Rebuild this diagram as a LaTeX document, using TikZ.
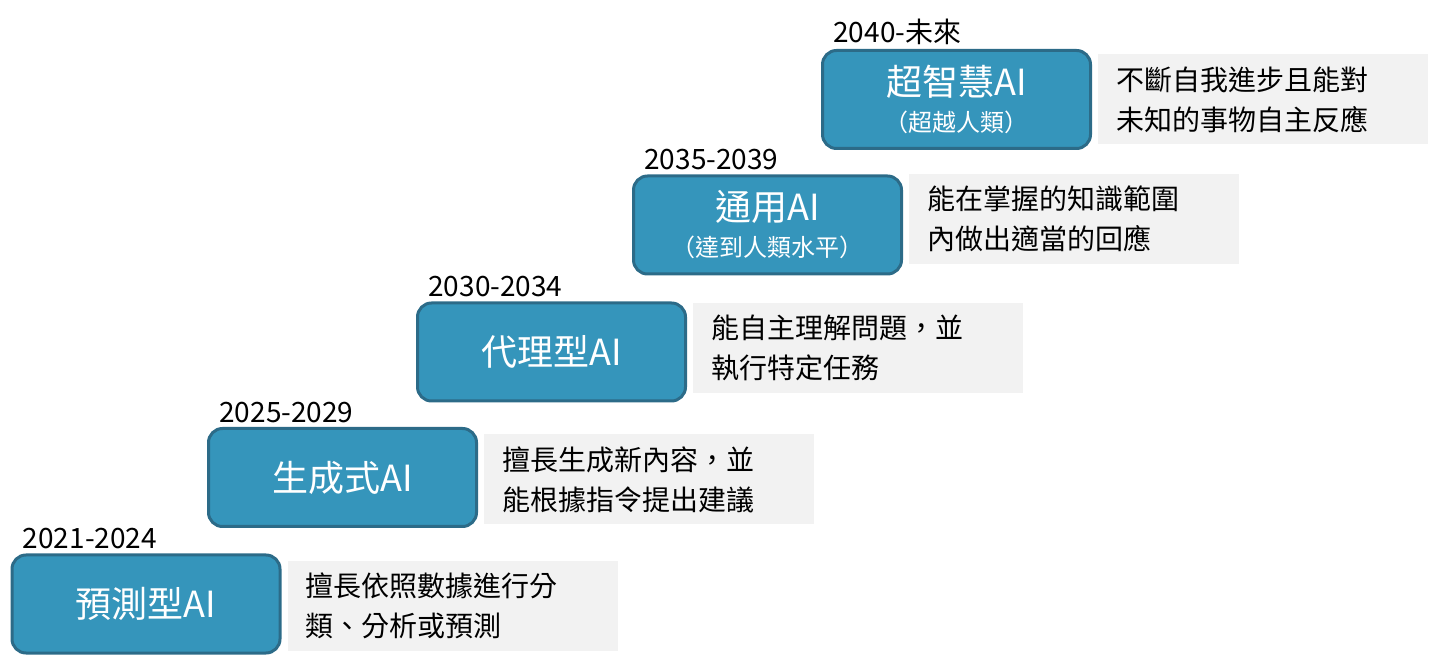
\documentclass[tikz,border=0pt]{standalone}
\usepackage{fontspec}
\setmainfont{Noto Sans CJK TC}
\usetikzlibrary{positioning}
\definecolor{stepblue}{HTML}{3595BB}
\definecolor{stepedge}{HTML}{2C6B88}
\definecolor{notegray}{HTML}{F2F2F2}

\begin{document}
\begin{tikzpicture}[x=0.5pt, y=-0.5pt,
    stage/.style={draw=stepedge, line width=1.5pt, fill=stepblue, rounded corners=7pt,
        minimum width=134pt, minimum height=49pt, text=white, align=center,
        font=\fontsize{18}{21}\selectfont},
    note/.style={fill=notegray, minimum width=165pt, minimum height=45pt, text width=147pt,
        align=left, font=\fontsize{14}{20}\selectfont, right=3pt of #1},
    year/.style={font=\fontsize{14}{16}\selectfont, inner sep=1pt, anchor=south west}]
    \useasboundingbox (0,0) rectangle (1429,667);

    \node[stage] (p) at (146,604) {預測型AI};
    \node[stage] (g) at (342.5,477.5) {生成式AI};
    \node[stage] (a) at (551.5,352) {代理型AI};
    \node[stage] (u) at (767.5,225) {通用AI\\[-3pt]{\fontsize{12}{14}\selectfont （達到人類水平）}};
    \node[stage] (s) at (956.5,99.5) {超智慧AI\\[-3pt]{\fontsize{12}{14}\selectfont （超越人類）}};

    \node[note=p, yshift=-1pt] (pn) {擅長依照數據進行分\\類、分析或預測};
    \node[note=g, yshift=-1pt] (gn) {擅長生成新內容，並\\能根據指令提出建議};
    \node[note=a, yshift=2pt] (an) {能自主理解問題，並\\執行特定任務};
    \node[note=u, yshift=3pt] (un) {能在掌握的知識範圍\\內做出適當的回應};
    \node[note=s] (sn) {不斷自我進步且能對\\未知的事物自主反應};

    \node[year] (py) at ([xshift=5pt,yshift=1pt]p.north west) {2021-2024};
    \node[year] (gy) at ([xshift=5pt,yshift=1pt]g.north west) {2025-2029};
    \node[year] (ay) at ([xshift=5pt,yshift=1pt]a.north west) {2030-2034};
    \node[year] (uy) at ([xshift=5pt,yshift=1pt]u.north west) {2035-2039};
    \node[year] (sy) at ([xshift=5pt,yshift=1pt]s.north west) {2040-未來};
\end{tikzpicture}
\end{document}
